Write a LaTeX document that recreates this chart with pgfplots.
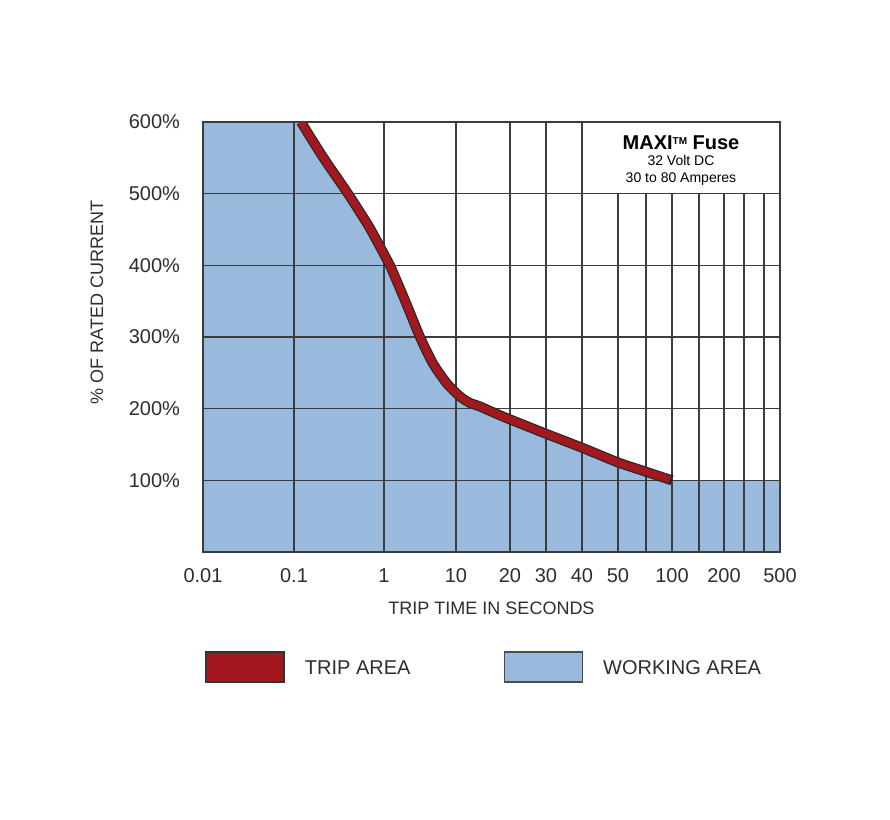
\documentclass[border=0pt]{standalone}
\usepackage{pgfplots}
\pgfplotsset{compat=1.18}
\usepackage{fontspec}
\setmainfont{Liberation Sans}
\definecolor{workblue}{RGB}{153,185,221}
\definecolor{tripred}{RGB}{163,24,30}
\definecolor{gridgray}{RGB}{60,60,60}
\definecolor{textgray}{RGB}{45,45,45}
\begin{document}
\begin{tikzpicture}
\begin{axis}[
  at={(0pt,0pt)}, anchor=south west,
  set layers,
  scale only axis, width=288.5pt, height=215pt,
  xmin=0, xmax=577, ymin=0, ymax=600,
  xtick={0,91,181,253,307,343,379,415,443,469,496,521,541,561,577},
  xticklabels={0.01,0.1,1,10,20,30,40,50,,100,,200,,,500},
  ytick={100,200,300,400,500,600},
  yticklabels={100\%,200\%,300\%,400\%,500\%,600\%},
  /pgf/number format/assume math mode=true,
  major tick length=0pt,
  xmajorgrids, ymajorgrids,
  major grid style={draw=gridgray, line width=0.6pt},
  axis line style={draw=gridgray, line width=0.8pt},
  tick label style={font=\fontsize{10}{12}\selectfont, text=textgray},
  xticklabel style={yshift=-4.7pt},
  yticklabel style={xshift=-8pt},
  xlabel={TRIP TIME IN SECONDS},
  ylabel={\% OF RATED CURRENT},
  label style={font=\fontsize{9}{11}\selectfont, text=textgray},
  x label style={at={(axis description cs:0.5,0)}, anchor=center, yshift=-28pt},
  y label style={at={(axis description cs:0,0.58)}, anchor=center, yshift=53pt},
  legend columns=2,
  legend style={draw=none, fill=none, inner sep=0pt,
    at={(axis description cs:0,0)}, anchor=west, xshift=1pt, yshift=-57.5pt,
    font=\fontsize{10}{12}\selectfont, text=textgray,
    nodes={inner sep=0pt},
    /tikz/every odd column/.append style={column sep=10pt},
    /tikz/every even column/.append style={column sep=46.5pt}},
]
\addlegendimage{legend image code/.code={\draw[draw=black!80, fill=tripred, line width=0.8pt] (0pt,-6.25pt) rectangle (39pt,8.75pt);}}
\addlegendentry{TRIP AREA}
\addlegendimage{legend image code/.code={\draw[draw=black!70, fill=workblue, line width=0.8pt] (0pt,-6.25pt) rectangle (39pt,8.75pt);}}
\addlegendentry{WORKING AREA}

% working area
\addplot[on layer=axis background, fill=workblue, draw=none, forget plot] coordinates {
 (0,0) (0,600) (98,600) (120,551) (145,500) (166,454) (182,413) (187,400) (202,351)
 (217,300) (230,263) (244,235) (257,217) (267,208) (277,203) (300,189) (343,165)
 (380,145) (415,125) (443,112) (469,100) (577,100) (577,0)
} -- cycle;

% trip curve
\addplot[draw=black!85, line width=5pt, line join=round, smooth, tension=0.4, forget plot] coordinates {
 (98,600) (120,551) (145,500) (166,454) (182,413) (187,400) (202,351)
 (217,300) (230,263) (244,235) (257,217) (267,208) (277,203) (300,189) (343,165)
 (380,145) (415,125) (443,112) (469,100)
};
\addplot[draw=tripred, line width=3.8pt, line join=round, smooth, tension=0.4, forget plot] coordinates {
 (98,600) (120,551) (145,500) (166,454) (182,413) (187,400) (202,351)
 (217,300) (230,263) (244,235) (257,217) (267,208) (277,203) (300,189) (343,165)
 (380,145) (415,125) (443,112) (467,101)
};

\draw[fill=white, draw=gridgray, line width=0.8pt] (axis cs:379,500) rectangle (axis cs:577,600);
\node[align=center, text=black, inner sep=0pt, font=\fontsize{7}{8.5}\selectfont] at (axis cs:478,545.9) {%
  {\bfseries\fontsize{10}{8.5}\selectfont MAXI\raisebox{2.8pt}{\fontsize{5}{5}\selectfont TM} Fuse}\\[-0.5pt]
  32 Volt DC\\
  30 to 80 Amperes};
\end{axis}
\path (-101.5pt,-134pt) rectangle (343.5pt,276pt);
\end{tikzpicture}
\end{document}
